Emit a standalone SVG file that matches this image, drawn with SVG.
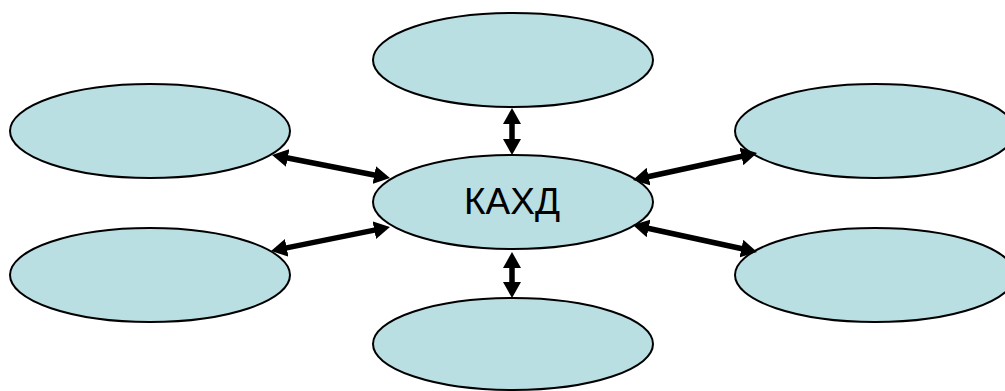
<svg xmlns="http://www.w3.org/2000/svg" width="1005" height="391" viewBox="0 0 1005 391">
  <style>
    .node { fill: #B9DFE3; stroke: #000; stroke-width: 2; }
    .conn { stroke: #000; stroke-width: 5.5; fill: none; marker-start: url(#head); marker-end: url(#head); }
    .label { font-family: "Liberation Sans", Arial, sans-serif; font-size: 37px; fill: #000; text-anchor: middle; }
  </style>
  <defs>
    <marker id="head" viewBox="0 0 16 18" refX="9" refY="9" markerWidth="16" markerHeight="18" markerUnits="userSpaceOnUse" orient="auto-start-reverse">
      <path d="M0,0 L16,9 L0,18 z" fill="#000"/>
    </marker>
  </defs>
  <rect width="1005" height="391" fill="#fff"/>
  <g id="node-top"><ellipse class="node" cx="513" cy="60" rx="140" ry="47"/></g>
  <g id="node-left-top"><ellipse class="node" cx="150" cy="131" rx="140" ry="47"/></g>
  <g id="node-left-bottom"><ellipse class="node" cx="150" cy="275" rx="140" ry="47"/></g>
  <g id="node-right-top"><ellipse class="node" cx="875" cy="131" rx="140" ry="47"/></g>
  <g id="node-right-bottom"><ellipse class="node" cx="875" cy="275" rx="140" ry="47"/></g>
  <g id="node-bottom"><ellipse class="node" cx="513" cy="344" rx="140" ry="46"/></g>
  <g id="node-center">
    <ellipse class="node" cx="513" cy="202" rx="140" ry="47"/>
    <text class="label" x="512" y="214">КАХД</text>
  </g>
  <g id="connectors">
    <line class="conn" x1="512" y1="115" x2="512" y2="148"/>
    <line class="conn" x1="512" y1="259" x2="512" y2="291"/>
    <line class="conn" x1="278.9" y1="156.3" x2="383.1" y2="176.7"/>
    <line class="conn" x1="277.9" y1="249.6" x2="383.1" y2="228.4"/>
    <line class="conn" x1="639.8" y1="178.5" x2="750.2" y2="154.5"/>
    <line class="conn" x1="639.8" y1="226.5" x2="750.2" y2="250.5"/>
  </g>
</svg>
